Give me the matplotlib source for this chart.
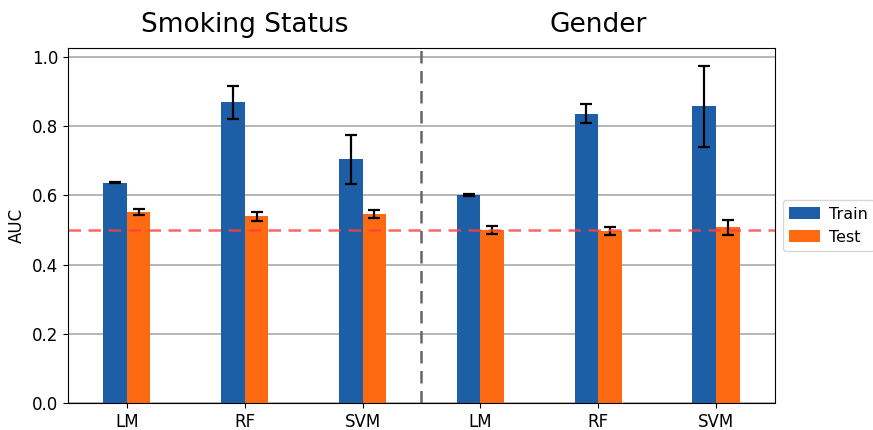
import matplotlib
matplotlib.use("Agg")
import matplotlib.pyplot as plt
import numpy as np

models = ["LM", "RF", "SVM", "LM", "RF", "SVM"]
groups = ["Smoking Status", "Gender"]

train_auc = [0.637, 0.869, 0.705, 0.601, 0.837, 0.858]
train_err = [0.002, 0.048, 0.071, 0.002, 0.027, 0.117]
test_auc = [0.553, 0.540, 0.546, 0.500, 0.497, 0.508]
test_err = [0.008, 0.013, 0.011, 0.011, 0.011, 0.022]

x = np.arange(len(models))
w = 0.2

fig = plt.figure(figsize=(8.73, 4.30), dpi=100)
ax = fig.add_axes([0.0779, 0.0628, 0.8098, 0.8252])

ax.set_axisbelow(True)
ax.yaxis.grid(True, color="#b0b0b0", linewidth=1.3)

ax.bar(x - w / 2, train_auc, w, yerr=train_err, color="#1c5fa6",
       capsize=4, error_kw=dict(elinewidth=1.6, capthick=1.6), label="Train")
ax.bar(x + w / 2, test_auc, w, yerr=test_err, color="#fd6a12",
       capsize=4, error_kw=dict(elinewidth=1.6, capthick=1.6), label="Test")

ax.axhline(0.5, color="#ff4040", linestyle="--", linewidth=1.8, alpha=0.8,
           dashes=(5, 3))
ax.axvline(2.5, color="#666666", linestyle="--", linewidth=1.8,
           dashes=(5, 3))

ax.set_xlim(-0.5, 5.5)
ax.set_ylim(0, 1.026)
ax.set_xticks(x)
ax.set_xticklabels(models, fontsize=12)
ax.set_yticks(np.arange(0, 1.01, 0.2))
ax.set_yticklabels(["%.1f" % v for v in np.arange(0, 1.01, 0.2)], fontsize=12)
ax.set_ylabel("AUC", fontsize=12)

for i, g in enumerate(groups):
    ax.text(1 + 3 * i, 1.045, g, transform=ax.get_xaxis_transform(),
            ha="center", va="baseline", fontsize=19)

ax.legend(loc="center left", bbox_to_anchor=(1.0, 0.5), fontsize=11.5,
          handlelength=1.9, handletextpad=0.6)

fig.savefig("out.png", dpi=100)
